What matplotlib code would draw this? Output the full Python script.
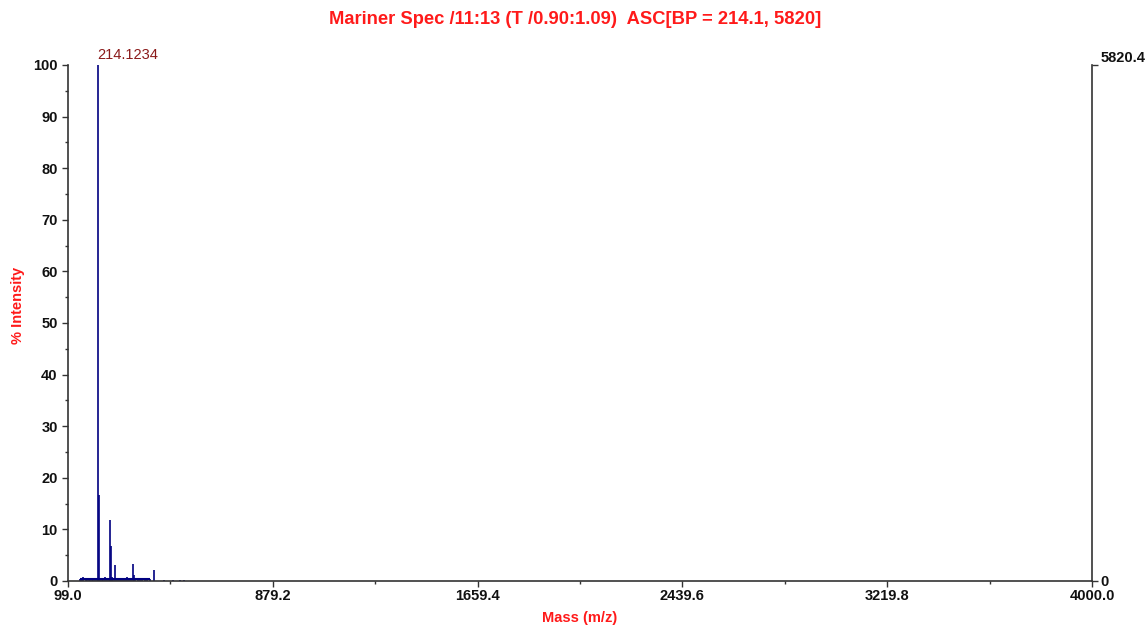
import matplotlib
matplotlib.use("Agg")
import matplotlib.pyplot as plt
from matplotlib.ticker import MultipleLocator, FixedLocator

plt.rcParams['font.family'] = ['Liberation Sans', 'DejaVu Sans']

# Peak list (m/z, % intensity)
mz = [146.0, 150.0, 154.0, 158.0, 166.0, 172.0, 178.0, 184.0, 190.0, 196.0,
      202.0, 208.0, 214.1234, 217.0, 222.0, 228.0, 234.0, 241.0, 248.0,
      254.0, 260.1, 264.1, 268.0, 272.0, 279.0, 286.0, 292.0, 300.0, 308.0,
      316.0, 324.0, 332.0, 338.0, 345.0, 349.0, 356.0, 364.0, 372.0, 380.0,
      393.0, 400.0, 410.0, 428.0, 466.0, 499.0, 526.0, 541.0]
intensity = [0.4, 0.3, 0.6, 0.7, 0.3, 0.35, 0.3, 0.35, 0.3, 0.35,
             0.3, 0.35, 100.0, 16.7, 0.35, 0.3, 0.35, 0.7, 0.3,
             0.35, 11.8, 6.8, 0.8, 0.4, 3.1, 0.5, 0.3, 0.35, 0.3,
             0.3, 0.7, 0.3, 0.35, 3.3, 1.2, 0.3, 0.3, 0.3, 0.3,
             0.6, 0.3, 0.3, 2.2, 0.25, 0.25, 0.25, 0.25]

x_ticks = [99.0, 879.2, 1659.4, 2439.6, 3219.8, 4000.0]
x_tick_labels = ["99.0", "879.2", "1659.4", "2439.6", "3219.8", "4000.0"]
base_peak_label = "214.1234"
base_peak_mz = 214.1234
abs_max = 5820.4
title = "Mariner Spec /11:13 (T /0.90:1.09)  ASC[BP = 214.1, 5820]"

W, H = 1145, 627
fig = plt.figure(figsize=(W / 100, H / 100), dpi=100)
left, right, top, bottom = 68, 1092, 65, 581
ax = fig.add_axes([left / W, 1 - bottom / H, (right - left) / W, (bottom - top) / H])

ax.vlines(mz, 0, intensity, colors="#000080", linewidth=1.2)
ax.hlines(0.3, 146, 410, colors="#000080", linewidth=1.5)

ax.set_xlim(99.0, 4000.0)
ax.set_ylim(0, 100)
ax.set_xticks(x_ticks)
ax.set_xticklabels(x_tick_labels)
ax.xaxis.set_minor_locator(FixedLocator([(a + b) / 2 for a, b in zip(x_ticks[:-1], x_ticks[1:])]))
ax.yaxis.set_major_locator(MultipleLocator(10))
ax.yaxis.set_minor_locator(MultipleLocator(5))
ax.tick_params(axis="both", which="major", direction="out", length=4, width=1,
               labelsize=10.5, colors="#333333", labelcolor="#111111")
ax.tick_params(axis="x", which="major", pad=2)
ax.tick_params(axis="both", which="minor", direction="out", length=2.5, width=1, colors="#333333")
for lbl in ax.get_xticklabels() + ax.get_yticklabels():
    lbl.set_fontweight("bold")
ax.spines["top"].set_visible(False)
ax.spines["right"].set_visible(False)
for s in ("left", "bottom"):
    ax.spines[s].set_color("#333333")
    ax.spines[s].set_linewidth(1.2)

fig.text(580 / W, 1 - 618 / H, "Mass (m/z)", color="#ff1a1a", fontweight="bold",
         fontsize=10.5, ha="center", va="center")
fig.text(18 / W, 1 - 305 / H, "% Intensity", color="#ff1a1a", fontweight="bold",
         fontsize=10.5, ha="center", va="center", rotation=90)

ax.annotate(base_peak_label, xy=(base_peak_mz, 100), xytext=(-1, 2),
            textcoords="offset points", ha="left", va="bottom",
            color="#8b1a1a", fontsize=10.5, annotation_clip=False)

ax2 = ax.twinx()
ax2.set_ylim(0, abs_max)
ax2.set_yticks([0, abs_max])
ax2.set_yticklabels(["0", "5820.4"])
ax2.tick_params(axis="y", direction="out", length=4, width=1, labelsize=10.5,
                colors="#333333", labelcolor="#111111", pad=2)
for lbl in ax2.get_yticklabels():
    lbl.set_fontweight("bold")
ax2.get_yticklabels()[1].set_va("bottom")
ax2.spines["top"].set_visible(False)
ax2.spines["left"].set_visible(False)
ax2.spines["bottom"].set_visible(False)
ax2.spines["right"].set_color("#333333")
ax2.spines["right"].set_linewidth(1.2)

fig.text(575 / W, 1 - 20 / H, title, ha="center", va="center", color="#ff1a1a",
         fontweight="bold", fontsize=13.2)

fig.savefig("out.png", dpi=100)
